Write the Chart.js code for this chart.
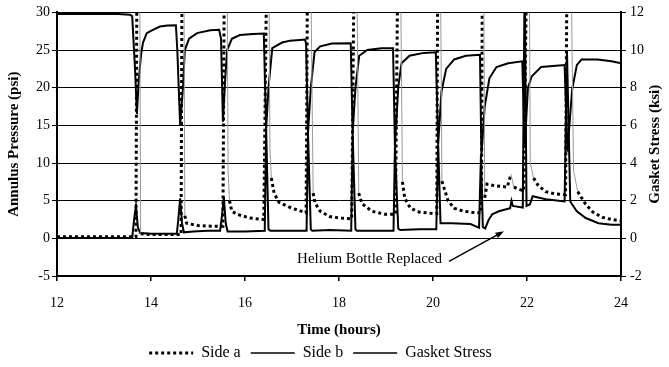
<!DOCTYPE html>
<html>
<head>
<meta charset="utf-8">
<script src="https://cdn.jsdelivr.net/npm/chart.js@4"></script>
<style>
  html, body { margin: 0; padding: 0; background: #fff; }
</style>
</head>
<body>
<canvas id="chart" width="669" height="367"></canvas>
<script>
// tick labels
const timeTicks = [12, 14, 16, 18, 20, 22, 24];
const psiTicks = [-5, 0, 5, 10, 15, 20, 25, 30];
const ksiTicks = [-2, 0, 2, 4, 6, 8, 10, 12];

// Side a annulus pressure (psi) - spikes go off the top of the chart
const sideATime = [12.0, 13.68, 13.70, 13.76, 13.78, 14.0, 14.3, 14.64, 14.66, 14.70, 14.72, 14.76, 15.0, 15.3, 15.53,
  15.56, 15.62, 15.64, 15.67, 15.72, 15.83, 16.1, 16.4, 16.46, 16.51, 16.53, 16.56, 16.62, 16.72, 16.85, 17.0, 17.15, 17.30,
  17.33, 17.40, 17.45, 17.49, 17.60, 17.80, 18.0, 18.27, 18.32, 18.38, 18.42, 18.49, 18.70, 18.98, 19.20,
  19.25, 19.31, 19.35, 19.40, 19.52, 19.70, 20.0, 20.08, 20.10, 20.16, 20.19, 20.32, 20.45, 20.65, 20.90, 21.03,
  21.05, 21.08, 21.10, 21.15, 21.30, 21.45, 21.58, 21.66, 21.72, 21.80, 21.93, 21.99, 22.05, 22.07, 22.14, 22.24, 22.40,
  22.60, 22.82, 22.85, 22.94, 22.99, 23.08, 23.25, 23.40, 23.60, 23.80, 24.0];
const sideAPsi = [0.2, 0.2, 35, 35, 0.6, 0.5, 0.5, 0.5, 35, 35, 3.0, 2.0, 1.7, 1.6, 1.6,
  35, 35, 9, 5, 3.6, 3.2, 2.7, 2.5, 35, 35, 12, 8, 6, 4.8, 4.4, 4.0, 3.7, 3.4,
  35, 35, 6, 4.7, 3.6, 2.9, 2.7, 2.6, 35, 35, 6, 4.6, 3.6, 3.2, 3.2,
  35, 35, 7.5, 5.3, 4.0, 3.5, 3.3, 3.3, 35, 35, 7.6, 5.0, 4.0, 3.6, 3.4, 3.4,
  35, 35, 5.4, 7.2, 7.0, 6.9, 6.8, 8.5, 6.8, 6.6, 6.3, 35, 35, 10, 8.0, 7.0, 6.2,
  5.9, 5.8, 35, 35, 9, 6.2, 4.5, 3.5, 2.8, 2.5, 2.3];

// Side b annulus pressure (psi)
const sideBTime = [12.0, 13.60, 13.64, 13.68, 13.72, 13.77, 14.0, 14.3, 14.55, 14.58, 14.62, 14.66, 14.70, 14.9, 15.2, 15.47,
  15.51, 15.55, 15.59, 15.63, 16.0, 16.42, 16.45, 16.50, 16.54, 16.9, 17.31, 17.34, 17.40, 17.43, 17.8, 18.26,
  18.29, 18.35, 18.38, 18.8, 19.16, 19.19, 19.26, 19.30, 19.7, 20.07, 20.11, 20.16, 20.4, 20.8, 20.98,
  21.02, 21.06, 21.11, 21.18, 21.26, 21.40, 21.64, 21.67, 21.70, 21.91, 21.95, 21.99, 22.06, 22.12, 22.40, 22.80,
  22.85, 22.92, 23.06, 23.25, 23.52, 23.80, 24.0];
const sideBPsi = [0.05, 0.05, 2.5, 4.3, 1.5, 0.7, 0.6, 0.6, 0.6, 2.5, 5.3, 2.0, 0.8, 0.9, 1.0, 1.0,
  3.0, 5.5, 2.0, 0.9, 0.9, 1.0, 14.5, 1.2, 1.0, 1.0, 1.0, 14.0, 1.2, 1.0, 1.1, 1.0,
  14.0, 1.2, 1.0, 1.0, 1.0, 12.2, 1.3, 1.1, 1.2, 1.2, 12.5, 2.0, 2.0, 1.9, 1.4,
  11, 1.5, 1.3, 2.4, 3.2, 3.6, 4.0, 5.0, 4.3, 4.1, 35, 4.3, 4.5, 5.6, 5.2, 4.9,
  25, 4.9, 3.6, 2.7, 2.0, 1.8, 1.8];

// Gasket stress (ksi, right axis)
const gasketTime = [12.0, 13.3, 13.55, 13.60, 13.66, 13.70, 13.74, 13.79, 13.83, 13.91, 14.02, 14.19, 14.35, 14.53,
  14.56, 14.62, 14.68, 14.72, 14.81, 14.98, 15.26, 15.45, 15.49, 15.53, 15.58, 15.62, 15.72, 15.89, 16.17, 16.40,
  16.45, 16.50, 16.58, 16.79, 16.96, 17.28, 17.30, 17.34, 17.40, 17.48, 17.60, 17.85, 18.25,
  18.29, 18.35, 18.43, 18.60, 18.90, 19.15, 19.19, 19.26, 19.33, 19.50, 19.80, 20.06,
  20.11, 20.18, 20.28, 20.45, 20.70, 21.00, 21.03, 21.10, 21.20, 21.35, 21.60, 21.90,
  21.95, 22.02, 22.10, 22.30, 22.55, 22.80, 22.86, 22.96, 23.06, 23.16, 23.50, 23.80, 24.0];
const gasketKsi = [11.92, 11.92, 11.88, 11.8, 9.0, 6.6, 8.4, 9.8, 10.4, 10.9, 11.05, 11.25, 11.3, 11.32,
  10.0, 6.0, 8.0, 10.0, 10.6, 10.9, 11.05, 11.08, 10.6, 6.2, 8.5, 10.0, 10.6, 10.8, 10.85, 10.88,
  5.8, 8.0, 10.1, 10.4, 10.5, 10.56, 10.3, 5.6, 8.0, 9.9, 10.2, 10.35, 10.36,
  5.6, 8.0, 9.7, 10.0, 10.1, 10.1, 4.9, 8.0, 9.3, 9.7, 9.85, 9.88,
  5.0, 7.8, 9.0, 9.5, 9.7, 9.75, 4.4, 7.0, 8.5, 9.1, 9.3, 9.4,
  4.8, 8.0, 8.6, 9.1, 9.15, 9.2, 4.6, 7.9, 9.2, 9.5, 9.5, 9.4, 9.3];

// annotation, in data units (hours, psi)
const noteText = 'Helium Bottle Replaced';
const noteAt = [18.65, -2.8];
const arrowFrom = [20.34, -3.05];
const arrowTo = [21.51, 0.93];

const serif = '"Liberation Serif", "Times New Roman", serif';

function pairs(xs, ys) {
  return xs.map((x, i) => ({ x, y: ys[i] }));
}

// falling edge of a side-a spike comes out as a thin grey trace
function isFall(ctx) {
  return ctx.p0.parsed.y > 8 && ctx.p1.parsed.y < ctx.p0.parsed.y;
}

const extras = {
  id: 'extras',
  afterLayout(chart) {
    // legend sits a little left of centre and a bit lower in the original
    const lg = chart.legend;
    lg.right -= 28;
    lg.top += 4;
    lg.bottom += 4;
  },
  afterDraw(chart) {
    const { ctx, chartArea, scales } = chart;
    const x = scales.x;
    const y = scales.y;

    ctx.save();
    ctx.fillStyle = '#000';
    ctx.textAlign = 'center';
    ctx.textBaseline = 'middle';
    ctx.font = 'bold 15px ' + serif;
    ctx.translate(655, (chartArea.top + chartArea.bottom) / 2);
    ctx.rotate(-Math.PI / 2);
    ctx.fillText('Gasket Stress (ksi)', 0, 0);
    ctx.restore();

    ctx.save();
    ctx.fillStyle = '#000';
    ctx.strokeStyle = '#000';
    ctx.font = '15px ' + serif;
    ctx.textAlign = 'center';
    ctx.textBaseline = 'middle';
    ctx.fillText(noteText, x.getPixelForValue(noteAt[0]), y.getPixelForValue(noteAt[1]));

    const x0 = x.getPixelForValue(arrowFrom[0]);
    const y0 = y.getPixelForValue(arrowFrom[1]);
    const x1 = x.getPixelForValue(arrowTo[0]);
    const y1 = y.getPixelForValue(arrowTo[1]);
    const ang = Math.atan2(y1 - y0, x1 - x0);
    ctx.lineWidth = 1.5;
    ctx.beginPath();
    ctx.moveTo(x0, y0);
    ctx.lineTo(x1 - 6 * Math.cos(ang), y1 - 6 * Math.sin(ang));
    ctx.stroke();
    ctx.beginPath();
    ctx.moveTo(x1, y1);
    ctx.lineTo(x1 - 9 * Math.cos(ang - 0.35), y1 - 9 * Math.sin(ang - 0.35));
    ctx.lineTo(x1 - 9 * Math.cos(ang + 0.35), y1 - 9 * Math.sin(ang + 0.35));
    ctx.closePath();
    ctx.fill();
    ctx.restore();
  }
};

const tickFont = { family: serif, size: 14 };
const titleFont = { family: serif, size: 15, weight: 'bold', lineHeight: 1 };

new Chart(document.getElementById('chart'), {
  type: 'line',
  data: {
    datasets: [
      {
        label: 'Side a',
        data: pairs(sideATime, sideAPsi),
        yAxisID: 'y',
        borderColor: '#000',
        backgroundColor: '#000',
        borderWidth: 3,
        borderDash: [3, 3],
        pointRadius: 0,
        pointStyle: 'line',
        segment: {
          borderColor: (ctx) => (isFall(ctx) ? '#9a9a9a' : undefined),
          borderWidth: (ctx) => (isFall(ctx) ? 1 : undefined),
          borderDash: (ctx) => (isFall(ctx) ? [] : undefined)
        }
      },
      {
        label: 'Side b',
        data: pairs(sideBTime, sideBPsi),
        yAxisID: 'y',
        borderColor: '#000',
        backgroundColor: '#000',
        borderWidth: 2,
        pointRadius: 0,
        pointStyle: 'line'
      },
      {
        label: 'Gasket Stress',
        data: pairs(gasketTime, gasketKsi),
        yAxisID: 'y1',
        borderColor: '#000',
        backgroundColor: '#000',
        borderWidth: 2,
        pointRadius: 0,
        pointStyle: 'line'
      }
    ]
  },
  options: {
    responsive: false,
    animation: false,
    layout: { padding: { top: 12, right: 0, left: 0, bottom: 0 } },
    plugins: {
      legend: {
        position: 'bottom',
        labels: {
          usePointStyle: true,
          pointStyleWidth: 44,
          padding: 10,
          color: '#000',
          font: { family: serif, size: 16 },
          generateLabels(chart) {
            const items = Chart.defaults.plugins.legend.labels.generateLabels(chart);
            items.forEach((item) => {
              const ds = chart.data.datasets[item.datasetIndex];
              item.lineDash = ds.borderDash || [];
              item.lineWidth = ds.borderDash ? 3 : 1.5;
            });
            return items;
          }
        }
      },
      tooltip: { enabled: false }
    },
    scales: {
      x: {
        type: 'linear',
        min: 12,
        max: 24,
        afterBuildTicks: (scale) => { scale.ticks = timeTicks.map((v) => ({ value: v })); },
        afterFit: (scale) => { scale.height = 55; },
        ticks: { color: '#000', font: tickFont, padding: 14 },
        grid: { drawOnChartArea: false, drawTicks: true, tickLength: 5, color: '#000', lineWidth: 1.5 },
        border: { color: '#000', width: 2 },
        title: { display: true, text: 'Time (hours)', color: '#000', font: titleFont, padding: { top: 0, bottom: -7 } }
      },
      y: {
        position: 'left',
        min: -5,
        max: 30,
        afterBuildTicks: (scale) => { scale.ticks = psiTicks.map((v) => ({ value: v })); },
        afterFit: (scale) => { scale.width = 57; },
        ticks: { color: '#000', font: tickFont, padding: 2 },
        grid: { color: '#000', lineWidth: 1, tickLength: 5 },
        border: { color: '#000', width: 2 },
        title: { display: true, text: 'Annulus Pressure (psi)', color: '#000', font: titleFont, padding: { top: 7, bottom: 0 } }
      },
      y1: {
        position: 'right',
        min: -2,
        max: 12,
        afterBuildTicks: (scale) => { scale.ticks = ksiTicks.map((v) => ({ value: v })); },
        afterFit: (scale) => { scale.width = 48; },
        ticks: { color: '#000', font: tickFont, padding: 4 },
        grid: { drawOnChartArea: false, color: '#000', lineWidth: 1, tickLength: 5 },
        border: { color: '#000', width: 2 }
      }
    }
  },
  plugins: [extras]
});
</script>
</body>
</html>
